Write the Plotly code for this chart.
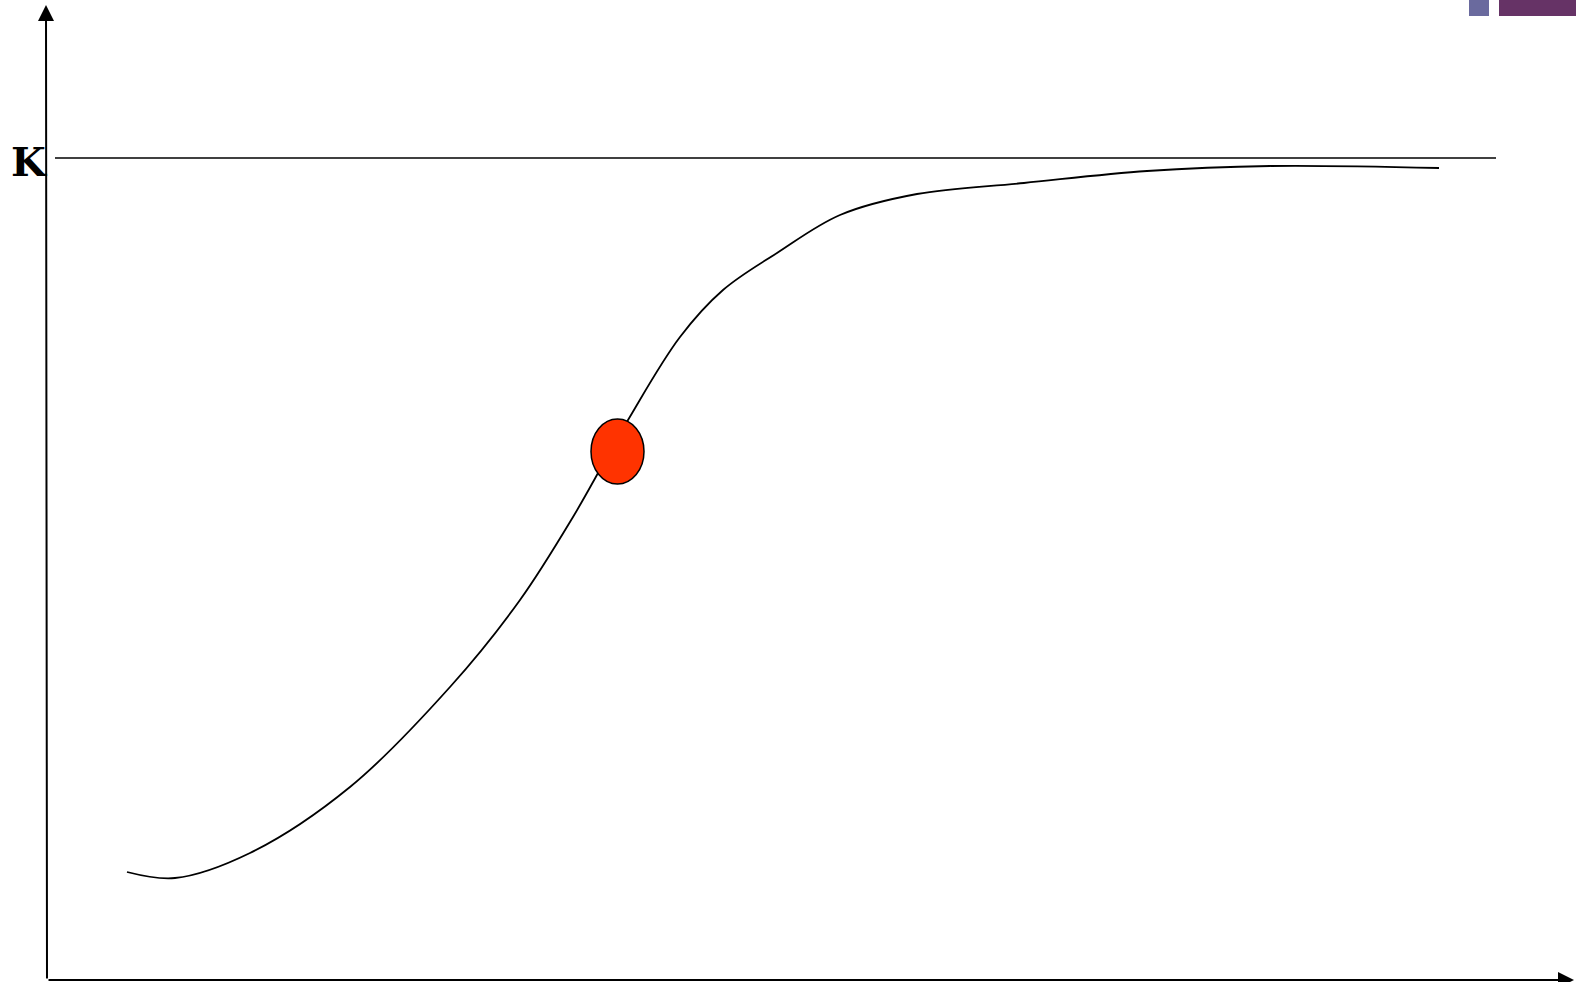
import plotly.graph_objects as go

# Logistic growth sketch (time vs population)
time = [80, 128, 203, 303, 403, 473, 526, 581, 633, 676, 730, 793, 870, 977, 1100, 1223, 1392]
population = [108, 102, 127, 193, 293, 380, 463, 560, 643, 690, 727, 765, 786, 797, 809, 814, 812]
K_value = 822
K_label = "K"
marker_t = 570.5
marker_n = 528.5

W, H = 1576, 982
fig = go.Figure()

fig.add_trace(go.Scatter(x=time, y=population, mode="lines",
                         line=dict(color="black", width=1.8, shape="spline", smoothing=1.0),
                         hoverinfo="skip", showlegend=False))

# carrying capacity line
fig.add_shape(type="line", x0=8, x1=1449, y0=K_value, y1=K_value,
              line=dict(color="black", width=1.5), xref="x", yref="y")

# red marker (ellipse)
fig.add_shape(type="circle", xref="x", yref="y",
              x0=marker_t - 26.5, x1=marker_t + 26.5, y0=marker_n - 32.5, y1=marker_n + 32.5,
              fillcolor="#FF3300", line=dict(color="black", width=1.5), layer="above")

# axes with arrows
fig.add_annotation(x=-1, y=975, ax=0, ay=0, axref="x", ayref="y", xref="x", yref="y",
                   showarrow=True, arrowhead=2, arrowsize=1.6, arrowwidth=2, arrowcolor="black", text="")
fig.add_annotation(x=1527, y=0, ax=0, ay=0, axref="x", ayref="y", xref="x", yref="y",
                   showarrow=True, arrowhead=2, arrowsize=1.6, arrowwidth=2, arrowcolor="black", text="")

fig.add_annotation(x=-18.5, y=K_value - 3, xref="x", yref="y", text="<b>" + K_label + "</b>", showarrow=False,
                   font=dict(family="DejaVu Serif", size=40, color="black"),
                   xanchor="center", yanchor="middle")

# decorative top-right blocks
fig.add_shape(type="rect", xref="paper", yref="paper",
              x0=1469 / W, x1=1489 / W, y0=1 - 16 / H, y1=1,
              fillcolor="#6A6A9E", line=dict(width=0))
fig.add_shape(type="rect", xref="paper", yref="paper",
              x0=1499 / W, x1=1, y0=1 - 16 / H, y1=1,
              fillcolor="#663366", line=dict(width=0))

fig.update_layout(width=W, height=H, margin=dict(l=0, r=0, t=0, b=0),
                  plot_bgcolor="white", paper_bgcolor="white",
                  xaxis=dict(range=[-47, 1529], visible=False, fixedrange=True),
                  yaxis=dict(range=[-2, 980], visible=False, fixedrange=True))

fig.write_html("out.html", config={"displayModeBar": False},
               post_script="document.body.style.margin='0';document.body.style.overflow='hidden';")
